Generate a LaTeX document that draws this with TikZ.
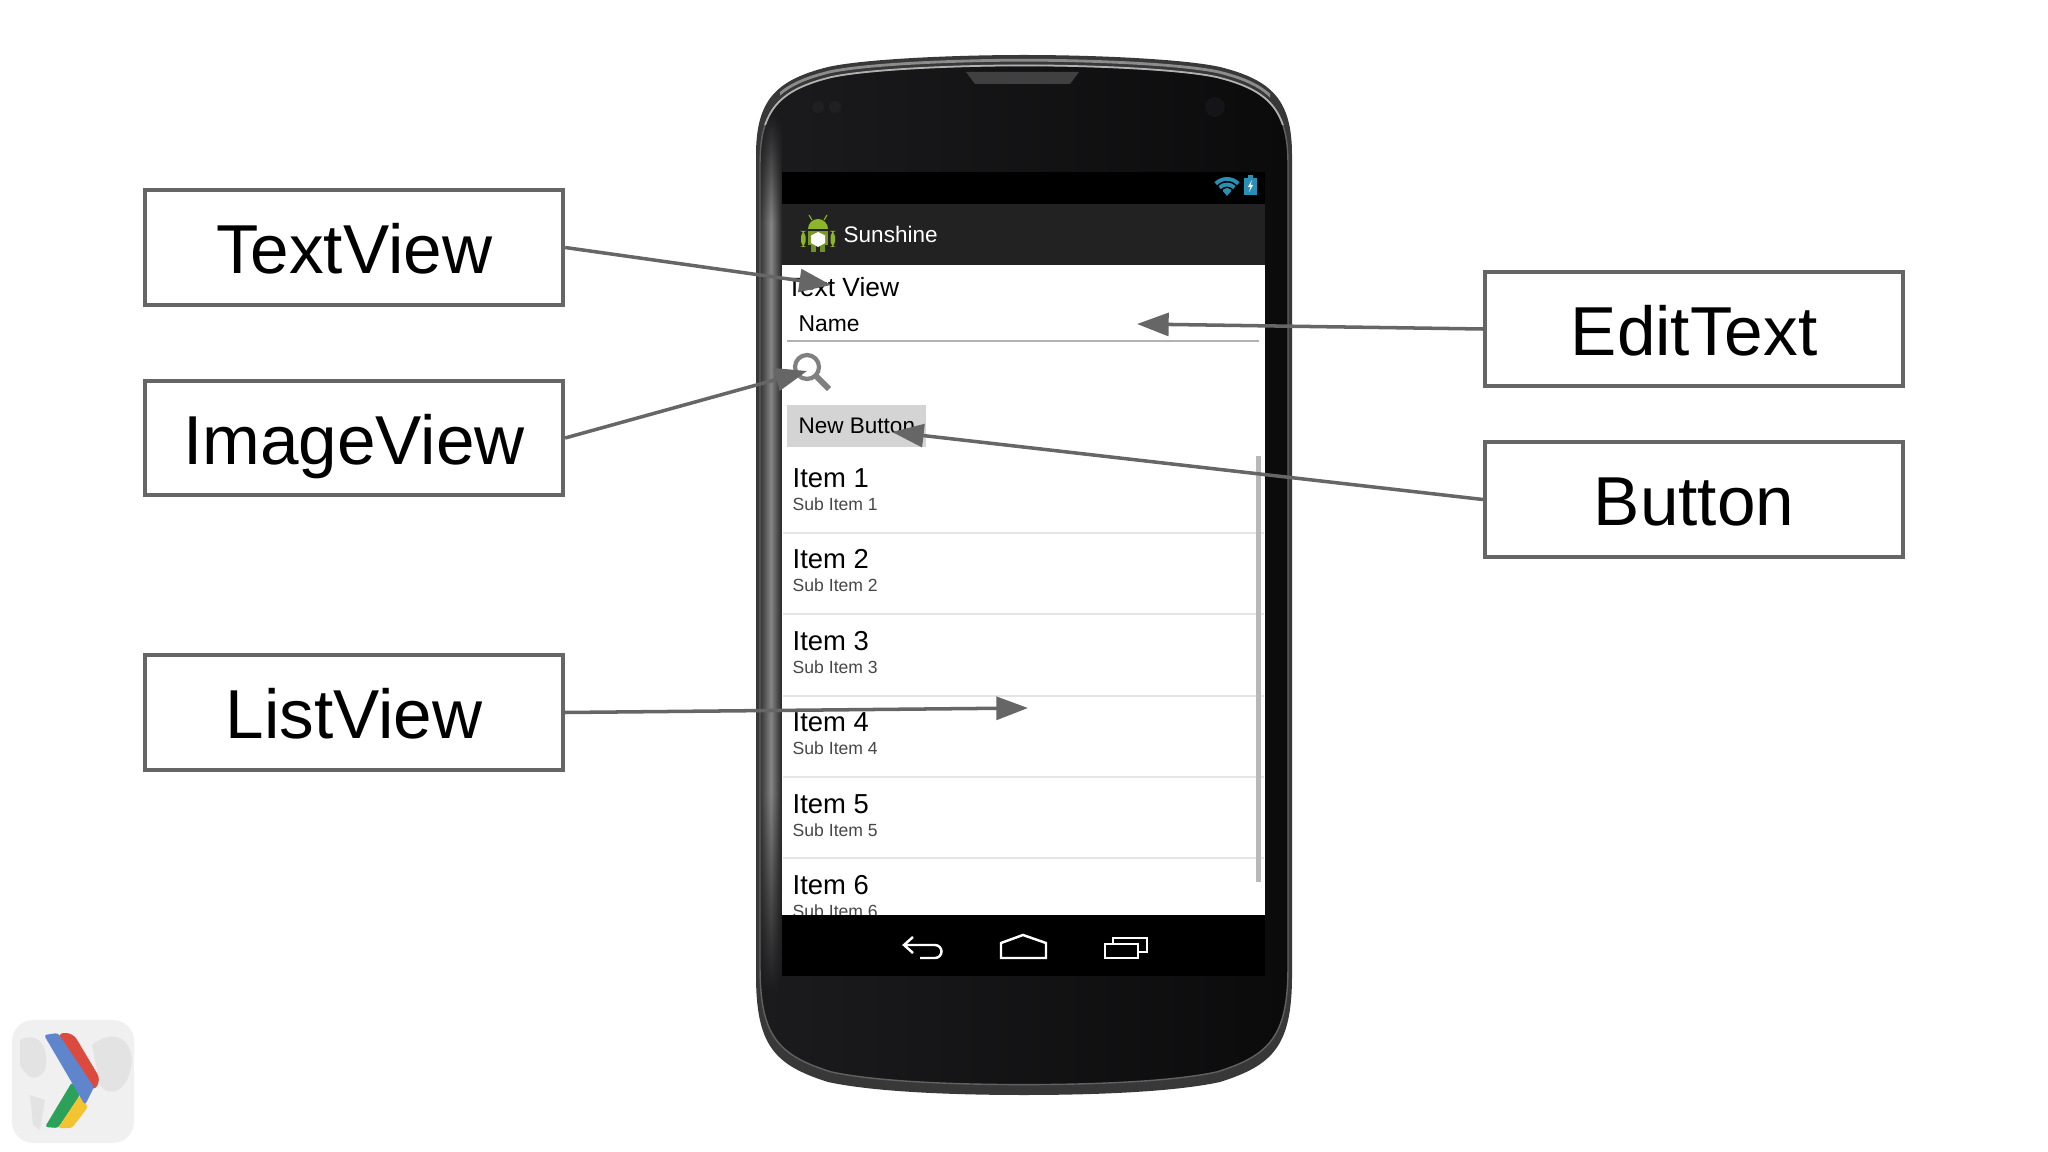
\documentclass[tikz,border=0pt]{standalone}
\usepackage{fontspec}
\usepackage{xcolor}
\usetikzlibrary{arrows.meta,fadings}
\setmainfont{Liberation Sans}
\definecolor{linegray}{HTML}{666666}
\definecolor{barblack}{HTML}{000000}
\definecolor{bargray}{HTML}{222222}
\definecolor{bodyleft}{HTML}{1B1B1D}
\definecolor{bodyright}{HTML}{0B0B0C}
\definecolor{lensdark}{HTML}{141419}
\definecolor{dotdark}{HTML}{202021}
\definecolor{wifiblue}{HTML}{2A8FB5}
\definecolor{droid}{HTML}{8DB52B}
\definecolor{logoblue}{HTML}{5F86CC}
\definecolor{logored}{HTML}{DC4A3E}
\definecolor{logogreen}{HTML}{2BA15A}
\definecolor{logoyellow}{HTML}{F4C430}
\tikzfading[name=fadetop,top color=transparent!100,bottom color=transparent!0]
\tikzfading[name=fadebottom,top color=transparent!0,bottom color=transparent!100]
\tikzset{
  labelbox/.style={draw=linegray,line width=1.15pt,fill=white,minimum width=4.18cm,minimum height=1.14cm,text height=15pt,text depth=0pt,font=\fontsize{19.7}{22}\selectfont},
  pointer/.style={draw=linegray,line width=1pt,-{Triangle[length=9pt,width=6.5pt]}},
  itemtext/.style={anchor=west,inner sep=0pt,font=\fontsize{7.8}{9}\selectfont},
  subtext/.style={anchor=west,inner sep=0pt,text=black!72,font=\fontsize{5}{6}\selectfont},
  screentext/.style={anchor=west,inner sep=0pt,font=\fontsize{6.4}{8}\selectfont},
  navicon/.style={draw=white,line width=.7pt},
  edgeband/.style={left color=black!80,right color=black!85,middle color=black!48}
}
\newcommand{\phoneshape}{(-268,-420) .. controls (-268,-475) and (-248,-495) .. (-196,-508) .. controls (-160,-516) and (-70,-520) .. (0,-520) .. controls (70,-520) and (160,-516) .. (196,-508) .. controls (248,-495) and (268,-475) .. (268,-420) -- (268,400) .. controls (268,470) and (250,490) .. (196,507) .. controls (150,517) and (70,520) .. (0,520) .. controls (-70,520) and (-150,517) .. (-196,507) .. controls (-250,490) and (-268,470) .. (-268,400) -- cycle}
\begin{document}
\begin{tikzpicture}[x=.01cm,y=-.01cm]
  \useasboundingbox (0,0) rectangle (2048,1152);
  % phone
  \fill[black!78,shift={(1024,575)}] \phoneshape;
  \begin{scope}
    \clip (780,40) rectangle (1270,110);
    \draw[black!45,line width=.8pt,shift={(1024,575)},xscale=.995,yscale=.99] \phoneshape;
  \end{scope}
  \begin{scope}[shift={(1024,575)},xscale=.985,yscale=.98]
    \shade[left color=bodyleft,right color=bodyright] \phoneshape;
    \clip \phoneshape;
    \shade[edgeband,path fading=fadetop] (-268,-470) rectangle (-246,-360);
    \shade[edgeband] (-268,-360) rectangle (-246,225);
    \shade[edgeband,path fading=fadebottom] (-268,225) rectangle (-246,425);
  \end{scope}
  \draw[black!62,line width=.4pt,shift={(1024,575)},xscale=.985,yscale=.98] \phoneshape;
  \begin{scope}
    \clip (700,40) rectangle (1340,125);
    \draw[black!30,line width=.5pt,shift={(1024,575)},xscale=.985,yscale=.98] \phoneshape;
  \end{scope}
  \fill[black!75] (966,72) -- (1079,72) -- (1070,84) -- (975,84) -- cycle;
  \fill[dotdark] (818,107) circle (6);
  \fill[dotdark] (835,107) circle (6);
  \fill[lensdark] (1215,107) circle (10);
  % screen
  \fill[barblack] (782,172) rectangle (1265,204);
  \fill[bargray] (782,204) rectangle (1265,265);
  \fill[white] (782,265) rectangle (1265,915);
  \node[screentext,text=white] (title) at (843,234) {Sunshine};
  \node[screentext,font=\fontsize{7.5}{9}\selectfont] (textlabel) at (786,287) {Text View};
  \node[screentext,font=\fontsize{6.5}{8}\selectfont] (namelabel) at (798,324) {Name};
  \draw[black!30,line width=.4pt] (787,341) -- (1259,341);
  % search icon
  \draw[black!50,line width=1.2pt] (807,367) circle (12);
  \draw[black!50,line width=1.7pt] (816,376) -- (829,389);
  % button
  \node[fill=black!17,minimum width=1.39cm,minimum height=.42cm,inner sep=0pt] (newbutton) at (856.5,426) {};
  \node[screentext] (buttonlabel) at (798,426) {New Button};
  % list
  \foreach \n/\y in {1/478,2/559.5,3/641,4/722.5,5/804,6/885.5}{
    \node[itemtext] (item\n) at (792,\y) {Item \n};
    \node[subtext] (sub\n) at (792,\y+26) {Sub Item \n};
  }
  \foreach \y in {533,614,696,777,858}
    \draw[black!10,line width=.4pt] (783,\y) -- (1264,\y);
  \fill[black!28] (1256,456) rectangle (1261,882);
  % nav bar
  \fill[barblack] (782,915) rectangle (1265,976);
  \draw[navicon] (904,945) -- (935,945) arc (-90:90:6.5) -- (920,958);
  \draw[navicon] (913,937) -- (904,945) -- (913,953);
  \draw[navicon] (1001,958) -- (1001,943) -- (1023,935) -- (1046,943) -- (1046,958) -- cycle;
  \draw[navicon] (1105,944) rectangle (1138,958);
  \draw[navicon] (1113,944) -- (1113,938) -- (1147,938) -- (1147,952) -- (1138,952);
  % status icons
  \foreach \r in {5,10.5,16}
    \draw[wifiblue,line width=1.1pt] (1227,195)++(225:\r) arc (225:315:\r);
  \fill[wifiblue] (1227,196) -- (1223,191) -- (1231,191) -- cycle;
  \fill[wifiblue] (1244,178) rectangle (1257,195);
  \fill[wifiblue] (1248,175) rectangle (1253,178);
  \fill[white] (1252,180) -- (1248,187) -- (1250.5,187) -- (1249,192) -- (1253,185) -- (1250.5,185) -- cycle;
  % app icon
  \fill[droid,rounded corners=1.5] (801,231) rectangle (805.5,247);
  \fill[droid,rounded corners=1.5] (830.5,231) rectangle (835,247);
  \fill[droid] (808,229) arc (180:360:10) -- cycle;
  \draw[droid,line width=.3pt] (812,220) -- (809,215);
  \draw[droid,line width=.3pt] (824,220) -- (827,215);
  \fill[droid!85!black] (808,231) rectangle (828,245);
  \fill[droid!80!black] (811,245) rectangle (816,252);
  \fill[droid!80!black] (820,245) rectangle (825,252);
  \fill[white] (818,232) -- (825,235.5) -- (825,243) -- (818,247) -- (811,243) -- (811,235.5) -- cycle;
  % logo
  \fill[black!6,rounded corners=6] (12,1020) rectangle (134,1143);
  \fill[black!11] (20,1040) .. controls (40,1030) and (50,1050) .. (45,1070) .. controls (35,1085) and (25,1075) .. (20,1065) -- cycle;
  \fill[black!11] (92,1045) .. controls (110,1030) and (130,1035) .. (132,1060) .. controls (130,1090) and (110,1100) .. (100,1085) -- cycle;
  \fill[black!11] (30,1095) -- (45,1100) -- (40,1130) -- (33,1125) -- cycle;
  \fill[logogreen,rounded corners=.8] (45,1127) -- (72,1082) -- (80,1095) -- (58,1128) -- cycle;
  \fill[logoyellow,rounded corners=.8] (58,1128) -- (80,1095) -- (88,1107) -- (72,1128) -- cycle;
  \fill[logored,rounded corners=2] (57,1033) -- (73,1033) -- (101,1080) -- (93,1092) -- cycle;
  \fill[logoblue,rounded corners=.8] (44,1035) -- (58,1033) -- (94,1087) -- (85,1105) -- cycle;
  % labels
  \node[labelbox] (textview) at (354,247.5) {TextView};
  \node[labelbox] (imageview) at (354,438) {ImageView};
  \node[labelbox] (listview) at (354,712.5) {ListView};
  \node[labelbox] (edittext) at (1694,329) {EditText};
  \node[labelbox] (button) at (1694,499.5) {Button};
  \coordinate (texttip) at (831,285);
  \coordinate (imagetip) at (807,371);
  \coordinate (listtip) at (1028,708);
  \coordinate (edittip) at (1137,324);
  \coordinate (buttontip) at (892,432);
  \draw[pointer] (textview.east) -- (texttip);
  \draw[pointer] (imageview.east) -- (imagetip);
  \draw[pointer] (listview.east) -- (listtip);
  \draw[pointer] (edittext.west) -- (edittip);
  \draw[pointer] (button.west) -- (buttontip);
\end{tikzpicture}
\end{document}
